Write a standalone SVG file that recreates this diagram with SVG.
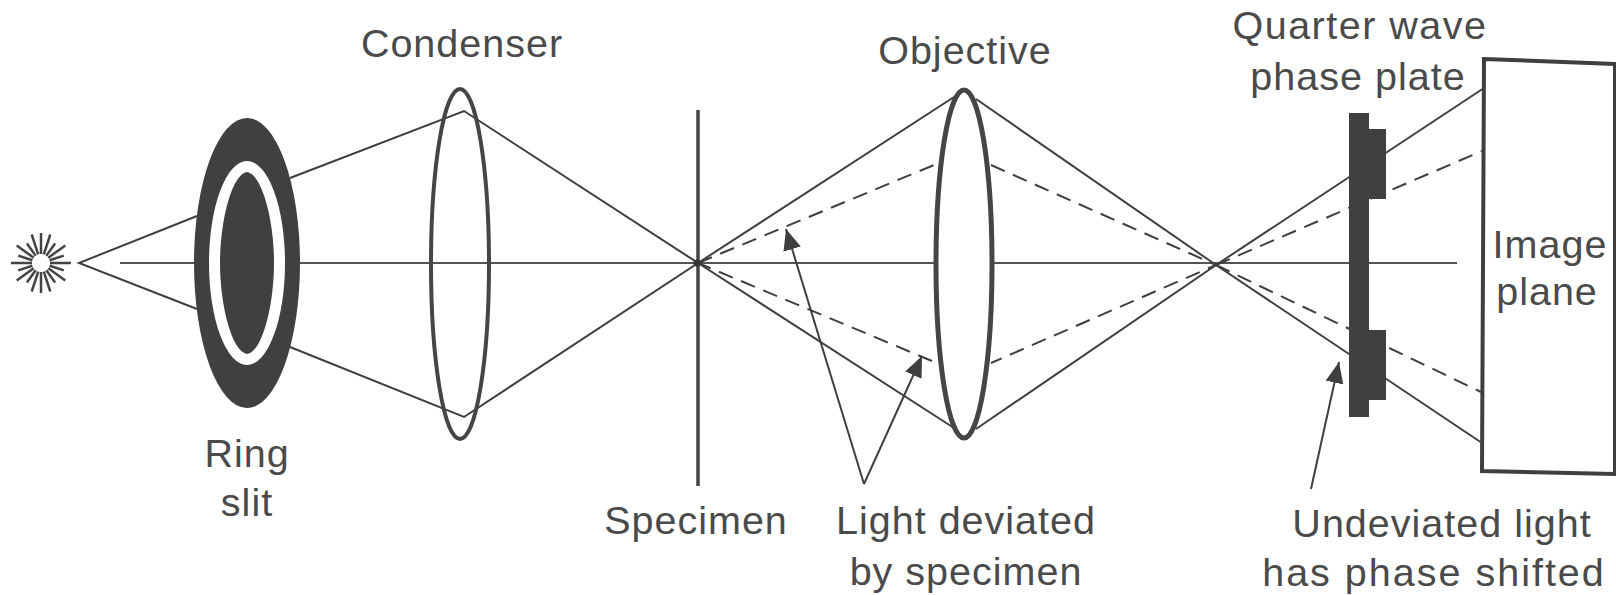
<svg xmlns="http://www.w3.org/2000/svg" width="1616" height="595" viewBox="0 0 1616 595">
<style>
text{font-family:"Liberation Sans",Arial,sans-serif;font-size:39.5px;fill:#4a4a4a;text-anchor:middle;letter-spacing:1px}
.ray{fill:none;stroke:#3f3f3f;stroke-width:2}
.dash{fill:none;stroke:#3f3f3f;stroke-width:2;stroke-dasharray:15 9}
.axis{fill:none;stroke:#555;stroke-width:1.8}
.dark{fill:#404040}
.lens{fill:#fff;stroke:#454545}
</style>
<defs>
<marker id="head" markerUnits="userSpaceOnUse" markerWidth="22" markerHeight="20" refX="21" refY="9" orient="auto"><path d="M0 0L21 9L0 18Z" fill="#3f3f3f"/></marker>
</defs>
<rect width="1616" height="595" fill="#fff"/>
<g id="connectors-back">
<path class="axis" d="M120 263H1457"/>
<path class="ray" d="M197 216L79 263L197 309M290 178L464 111L698 263L464 417L290 347"/>
<path class="ray" d="M698 263L954 97M976 99L1216 265L976 429M954 428L698 263M1216 265L1484 88M1216 265L1482 443"/>
<path class="dash" d="M698 263L934 165M991 165L1216 265L991 363M932 361L698 263M1216 265L1482 151M1216 265L1481 392"/>
</g>
<g id="light-source"><path fill="none" stroke="#444" stroke-width="2.5" d="M50 263H71M32 263H11M49.6 265.8L63.8 270.4M32.4 265.8L18.2 270.4M49.6 260.2L63.8 255.6M32.4 260.2L18.2 255.6M48.3 268.3L65.3 280.6M33.7 268.3L16.7 280.6M48.3 257.7L65.3 245.4M33.7 257.7L16.7 245.4M46.3 270.3L55.1 282.4M35.7 270.3L26.9 282.4M46.3 255.7L55.1 243.6M35.7 255.7L26.9 243.6M43.8 271.6L50.3 291.5M38.2 271.6L31.7 291.5M43.8 254.4L50.3 234.5M38.2 254.4L31.7 234.5M41 272V293M41 254V233"/></g>
<g id="ring-slit">
<ellipse cx="247" cy="263" rx="53" ry="145" class="dark"/>
<ellipse cx="247" cy="263" rx="38" ry="102" fill="#fff"/>
<path class="dark" d="M247 172C262 174 274 220 274 263C274 306 262 352 247 354C232 352 220 306 220 263C220 220 232 174 247 172Z"/>
</g>
<g id="condenser"><ellipse cx="460" cy="264" rx="29" ry="175" fill="none" stroke="#454545" stroke-width="4"/></g>
<g id="specimen"><path d="M698 110V486" stroke="#444" stroke-width="3.5" fill="none"/><circle cx="697" cy="263" r="3.5" fill="#333"/></g>
<g id="objective"><ellipse class="lens" stroke-width="5" cx="964" cy="264" rx="28" ry="174"/></g>
<g id="phase-plate"><path class="dark" d="M1349 113H1369V129H1386V199H1369V330H1386V400H1369V417H1349Z"/></g>
<g id="image-plane"><path d="M1484 59L1615 64V474L1482 471Z" fill="#fff" stroke="#3f3f3f" stroke-width="4"/></g>
<g id="connectors">
<path class="ray" marker-end="url(#head)" d="M864 484L786 229"/>
<path class="ray" marker-end="url(#head)" d="M864 484L922 356"/>
<path class="ray" marker-end="url(#head)" d="M1311 489L1339 362"/>
</g>
<g id="labels">
<text x="462" y="57">Condenser</text>
<text x="965" y="64">Objective</text>
<text x="1360" y="39" style="letter-spacing:1.5px">Quarter wave</text>
<text x="1358" y="90">phase plate</text>
<text x="1550" y="258">Image</text>
<text x="1547" y="305">plane</text>
<text x="247" y="467">Ring</text>
<text x="247" y="516">slit</text>
<text x="696" y="534">Specimen</text>
<text x="966" y="534">Light deviated</text>
<text x="966" y="585">by specimen</text>
<text x="1442" y="537">Undeviated light</text>
<text x="1434" y="586" style="letter-spacing:2px">has phase shifted</text>
</g>
</svg>
